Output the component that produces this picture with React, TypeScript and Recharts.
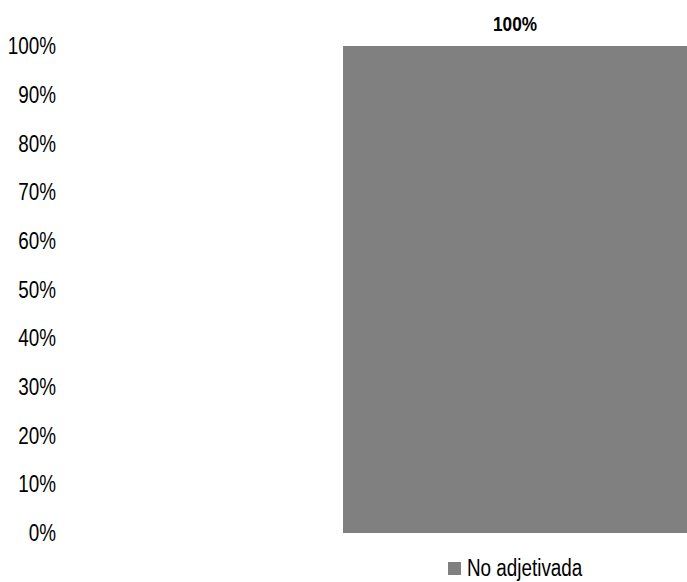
import React from 'react';
import { BarChart, Bar, XAxis, YAxis, Legend, LabelList } from 'recharts';

const categories = ['No adjetivada'];
const shares = [1];
const yTicks = [0, 0.1, 0.2, 0.3, 0.4, 0.5, 0.6, 0.7, 0.8, 0.9, 1];

const data = categories.map((name, i) => ({ name, value: shares[i] }));

// no narrow font installed, so squeeze Liberation Sans horizontally
const FONT = "'Liberation Sans', Arial, sans-serif";
const SQUEEZE = 0.82;
const BAR_COLOR = '#808080';

const pct = (v: number) => `${Math.round(v * 100)}%`;

function YTick({ x, y, payload }: any) {
  return (
    <text
      transform={`translate(${x},${y}) scale(${SQUEEZE},1)`}
      textAnchor="end"
      dy="0.355em"
      fill="#000"
      fontSize={23}
      fontFamily={FONT}
    >
      {pct(payload.value)}
    </text>
  );
}

function TopLabel({ x, y, width, value }: any) {
  return (
    <text
      transform={`translate(${x + width / 2},${y - 15}) scale(${SQUEEZE},1)`}
      textAnchor="middle"
      fill="#000"
      fontSize={21}
      fontWeight="bold"
      fontFamily={FONT}
    >
      {pct(Number(value))}
    </text>
  );
}

function LegendContent({ payload }: any) {
  return (
    <div style={{ display: 'flex', alignItems: 'center', paddingTop: 23, paddingLeft: 105 }}>
      {(payload || []).map((p: any) => (
        <div key={p.value} style={{ display: 'flex', alignItems: 'center' }}>
          <span style={{ width: 13, height: 13, background: p.color, display: 'inline-block', marginRight: 6 }} />
          <span
            style={{
              fontFamily: FONT,
              fontSize: 23,
              color: '#000',
              lineHeight: '24px',
              display: 'inline-block',
              transform: `scaleX(${SQUEEZE})`,
              transformOrigin: 'left center',
              whiteSpace: 'nowrap'
            }}
          >
            {p.value}
          </span>
        </div>
      ))}
    </div>
  );
}

export default function App() {
  return (
    <div style={{ position: 'absolute', left: 0, top: 0, background: '#fff' }}>
      <BarChart
        width={687}
        height={582}
        data={data}
        margin={{ top: 46, right: 0, left: 0, bottom: 0 }}
        barCategoryGap={0}
      >
        <XAxis dataKey="name" hide />
        <YAxis
          width={343}
          domain={[0, 1]}
          ticks={yTicks}
          axisLine={false}
          tickLine={false}
          tickSize={0}
          tickMargin={287}
          tick={<YTick />}
        />
        <Legend
          verticalAlign="bottom"
          content={<LegendContent />}
          wrapperStyle={{ left: 343, width: 344, height: 49 }}
        />
        <Bar dataKey="value" name="No adjetivada" fill={BAR_COLOR} isAnimationActive={false}>
          <LabelList dataKey="value" content={<TopLabel />} />
        </Bar>
      </BarChart>
    </div>
  );
}
